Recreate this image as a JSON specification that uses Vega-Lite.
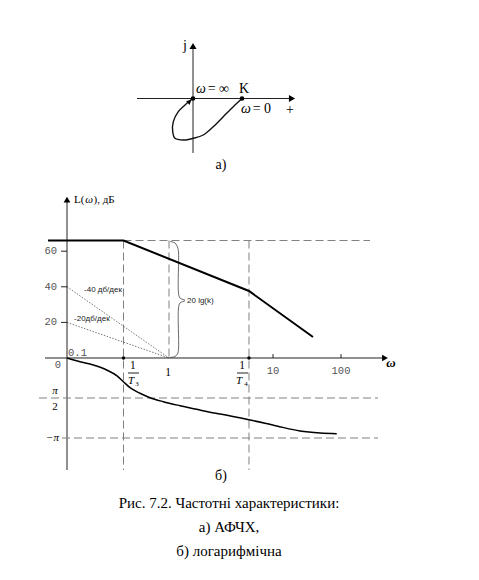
{
 "$schema": "https://vega.github.io/schema/vega-lite/v6.json",
 "width": 479, "height": 580, "padding": 0,
 "autosize": {"type": "none"},
 "background": "white",
 "config": {"view": {"stroke": null}},
 "resolve": {"scale": {"x": "independent", "y": "independent"}},
 "layer": [
  {
   "encoding": {
    "x": {"field": "x", "type": "quantitative", "scale": {"domain": [-3.9388, 5.8367], "nice": false, "zero": false}, "axis": null},
    "y": {"field": "y", "type": "quantitative", "scale": {"domain": [-9.8265, 2.0102], "nice": false, "zero": false}, "axis": null}
   },
   "layer": [
    {"data": {"values": [{"s": "re", "x": -1.1429, "y": 0}, {"s": "re", "x": 2.0, "y": 0}, {"s": "im", "x": 0, "y": -1.1122}, {"s": "im", "x": 0, "y": 1.051}]},
     "mark": {"type": "line", "stroke": "#222", "strokeWidth": 1},
     "encoding": {"detail": {"field": "s"}}},
    {"data": {"values": [
      {"i": 0, "x": 1, "y": 0}, {"i": 1, "x": 0.822, "y": -0.167}, {"i": 2, "x": 0.618, "y": -0.371},
      {"i": 3, "x": 0.414, "y": -0.576}, {"i": 4, "x": 0.21, "y": -0.745}, {"i": 5, "x": 0.006, "y": -0.812},
      {"i": 6, "x": -0.198, "y": -0.847}, {"i": 7, "x": -0.367, "y": -0.812}, {"i": 8, "x": -0.414, "y": -0.678},
      {"i": 9, "x": -0.402, "y": -0.473}, {"i": 10, "x": -0.3, "y": -0.269}, {"i": 11, "x": -0.163, "y": -0.133},
      {"i": 12, "x": -0.027, "y": -0.016}, {"i": 13, "x": 0, "y": 0}]},
     "mark": {"type": "line", "interpolate": "catmull-rom", "stroke": "#111", "strokeWidth": 1.4},
     "encoding": {"order": {"field": "i", "type": "quantitative"}}},
    {"data": {"values": [{"x": 0, "y": 0}, {"x": 1, "y": 0}]},
     "mark": {"type": "point", "filled": true, "color": "#000", "size": 22, "opacity": 1}},
    {"data": {"values": [{"x": 2.02, "y": 0}]},
     "mark": {"type": "point", "shape": "triangle-right", "filled": true, "color": "#000", "size": 50, "opacity": 1}},
    {"data": {"values": [{"x": 0, "y": 1.0714}]},
     "mark": {"type": "point", "shape": "triangle-up", "filled": true, "color": "#000", "size": 50, "opacity": 1}},
    {"data": {"values": [{"x": -0.07, "y": -0.06}]},
     "mark": {"type": "point", "shape": "triangle-up", "angle": 50, "filled": true, "color": "#000", "size": 28, "opacity": 1}},
    {"data": {"values": [{"x": -0.163, "y": 1.071, "t": "j"}, {"x": 0.571, "y": -1.357, "t": "а)"}, {"x": 1.98, "y": -0.235, "t": "+"}]},
     "mark": {"type": "text", "font": "Liberation Serif", "fontSize": 14, "align": "center", "color": "#000"},
     "encoding": {"text": {"field": "t"}}},
    {"data": {"values": [{"x": 0.061, "y": 0.194, "t": "ω"}, {"x": 0.98, "y": -0.214, "t": "ω"}]},
     "mark": {"type": "text", "font": "Liberation Serif", "fontSize": 14, "fontStyle": "italic", "align": "left", "color": "#000"},
     "encoding": {"text": {"field": "t"}}},
    {"data": {"values": [{"x": 0.3, "y": 0.194, "t": "= ∞"}, {"x": 0.939, "y": 0.194, "t": "K"}, {"x": 1.218, "y": -0.214, "t": "= 0"}]},
     "mark": {"type": "text", "font": "Liberation Serif", "fontSize": 14, "align": "left", "color": "#000"},
     "encoding": {"text": {"field": "t"}}}
   ]
  },
  {
   "encoding": {
    "x": {"field": "x", "type": "quantitative", "scale": {"domain": [-1.6569, 3.0392], "nice": false, "zero": false}, "axis": null},
    "y": {"field": "y", "type": "quantitative", "scale": {"domain": [-124.72, 201.12], "nice": false, "zero": false}, "axis": null}
   },
   "layer": [
    {"data": {"values": [
      {"s": "v3", "x": -0.446, "y": 66}, {"s": "v3", "x": -0.446, "y": -62.92},
      {"s": "v1", "x": 0, "y": 66}, {"s": "v1", "x": 0, "y": 0},
      {"s": "v4", "x": 0.784, "y": 66}, {"s": "v4", "x": 0.784, "y": -62.92},
      {"s": "top", "x": -0.446, "y": 66}, {"s": "top", "x": 1.9706, "y": 66}]},
     "mark": {"type": "line", "stroke": "#808080", "strokeWidth": 1, "strokeDash": [8, 4]},
     "encoding": {"detail": {"field": "s"}}},
    {"data": {"values": [
      {"s": "d40", "x": -1, "y": 40}, {"s": "d40", "x": 0, "y": 0},
      {"s": "d20", "x": -1, "y": 20}, {"s": "d20", "x": 0, "y": 0}]},
     "mark": {"type": "line", "stroke": "#555", "strokeWidth": 0.8, "strokeDash": [1.5, 1.5]},
     "encoding": {"detail": {"field": "s"}}},
    {"data": {"values": [
      {"s": "vax", "x": -1, "y": -62.92}, {"s": "vax", "x": -1, "y": 88.76},
      {"s": "hax", "x": -1.2157, "y": 0}, {"s": "hax", "x": 2.098, "y": 0},
      {"s": "t60", "x": -1.0588, "y": 60}, {"s": "t60", "x": -1, "y": 60},
      {"s": "t40", "x": -1.0588, "y": 40}, {"s": "t40", "x": -1, "y": 40},
      {"s": "t20", "x": -1.0588, "y": 20}, {"s": "t20", "x": -1, "y": 20},
      {"s": "t10", "x": 1.0196, "y": 0}, {"s": "t10", "x": 1.0196, "y": 2.2},
      {"s": "t100", "x": 1.6863, "y": 0}, {"s": "t100", "x": 1.6863, "y": 2.2},
      {"s": "b3", "x": -0.402, "y": -8.43}, {"s": "b3", "x": -0.294, "y": -8.43},
      {"s": "b4", "x": 0.6667, "y": -8.43}, {"s": "b4", "x": 0.7745, "y": -8.43}]},
     "mark": {"type": "line", "stroke": "#222", "strokeWidth": 1},
     "encoding": {"detail": {"field": "s"}}},
    {"data": {"values": [
      {"i": 0, "x": 0.0098, "y": 65.45}, {"i": 1, "x": 0.0588, "y": 64.61}, {"i": 2, "x": 0.0833, "y": 62.36},
      {"i": 3, "x": 0.0931, "y": 59.55}, {"i": 4, "x": 0.0931, "y": 36.52}, {"i": 5, "x": 0.1078, "y": 33.71},
      {"i": 6, "x": 0.1569, "y": 32.3}, {"i": 7, "x": 0.1078, "y": 30.9}, {"i": 8, "x": 0.0931, "y": 28.09},
      {"i": 9, "x": 0.0931, "y": 5.06}, {"i": 10, "x": 0.0833, "y": 2.25}, {"i": 11, "x": 0.0588, "y": 0.84},
      {"i": 12, "x": 0.0098, "y": 0.28}]},
     "mark": {"type": "line", "interpolate": "catmull-rom", "stroke": "#444", "strokeWidth": 0.8},
     "encoding": {"order": {"field": "i", "type": "quantitative"}}},
    {"data": {"values": [
      {"i": 0, "x": -1.1863, "y": 66}, {"i": 1, "x": -0.446, "y": 66},
      {"i": 2, "x": 0.784, "y": 37.64}, {"i": 3, "x": 1.4118, "y": 11.8}]},
     "mark": {"type": "line", "stroke": "#000", "strokeWidth": 2},
     "encoding": {"order": {"field": "i", "type": "quantitative"}}},
    {"data": {"values": [{"x": -0.446, "y": 0}, {"x": 0.784, "y": 0}]},
     "mark": {"type": "point", "filled": true, "color": "#000", "size": 12, "opacity": 1}},
    {"data": {"values": [{"x": -1, "y": 89}]},
     "mark": {"type": "point", "shape": "triangle-up", "filled": true, "color": "#000", "size": 45, "opacity": 1}},
    {"data": {"values": [{"x": 2.1176, "y": 0}]},
     "mark": {"type": "point", "shape": "triangle-right", "filled": true, "color": "#000", "size": 45, "opacity": 1}},
    {"data": {"values": [{"x": -1.098, "y": 60, "t": "60"}, {"x": -1.098, "y": 40, "t": "40"}, {"x": -1.098, "y": 20, "t": "20"}, {"x": -1.059, "y": -3.93, "t": "0"}]},
     "mark": {"type": "text", "font": "Liberation Mono", "fontSize": 10.5, "align": "right", "color": "#555"},
     "encoding": {"text": {"field": "t"}}},
    {"data": {"values": [{"x": -0.99, "y": 2.81, "t": "0.1"}]},
     "mark": {"type": "text", "font": "Liberation Mono", "fontSize": 10.5, "align": "left", "color": "#555"},
     "encoding": {"text": {"field": "t"}}},
    {"data": {"values": [{"x": 1.0196, "y": -7.3, "t": "10"}, {"x": 1.6863, "y": -7.3, "t": "100"}]},
     "mark": {"type": "text", "font": "Liberation Mono", "fontSize": 10.5, "align": "center", "color": "#555"},
     "encoding": {"text": {"field": "t"}}},
    {"data": {"values": [{"x": -0.0098, "y": -8.5, "t": "1"}, {"x": -0.353, "y": -4.49, "t": "1"}, {"x": 0.7157, "y": -4.49, "t": "1"}]},
     "mark": {"type": "text", "font": "Liberation Serif", "fontSize": 11.5, "align": "center", "color": "#000"},
     "encoding": {"text": {"field": "t"}}},
    {"data": {"values": [{"x": -0.3725, "y": -12.92, "t": "T"}, {"x": 0.6863, "y": -12.92, "t": "T"}]},
     "mark": {"type": "text", "font": "Liberation Serif", "fontSize": 11, "fontStyle": "italic", "align": "center", "color": "#000"},
     "encoding": {"text": {"field": "t"}}},
    {"data": {"values": [{"x": -0.3137, "y": -14.6, "t": "3"}, {"x": 0.7549, "y": -14.6, "t": "4"}]},
     "mark": {"type": "text", "font": "Liberation Serif", "fontSize": 7, "align": "center", "color": "#000"},
     "encoding": {"text": {"field": "t"}}},
    {"data": {"values": [{"x": -0.833, "y": 38.2, "t": "-40 дб/дек"}, {"x": -0.931, "y": 21.9, "t": "-20дб/дек"}, {"x": 0.1765, "y": 32.0, "t": "20 lg(k)"}]},
     "mark": {"type": "text", "font": "Liberation Sans", "fontSize": 8, "align": "left", "color": "#222"},
     "encoding": {"text": {"field": "t"}}},
    {"data": {"values": [{"x": -0.931, "y": 88.76, "t": "L("}, {"x": -0.74, "y": 88.76, "t": "), дБ"}]},
     "mark": {"type": "text", "font": "Liberation Serif", "fontSize": 11, "align": "left", "color": "#000"},
     "encoding": {"text": {"field": "t"}}},
    {"data": {"values": [{"x": -0.822, "y": 88.76, "t": "ω"}]},
     "mark": {"type": "text", "font": "Liberation Serif", "fontSize": 11, "fontStyle": "italic", "align": "left", "color": "#000"},
     "encoding": {"text": {"field": "t"}}},
    {"data": {"values": [{"x": 2.176, "y": -2.81, "t": "ω"}]},
     "mark": {"type": "text", "font": "Liberation Serif", "fontSize": 13, "fontStyle": "italic", "fontWeight": "bold", "align": "center", "color": "#000"},
     "encoding": {"text": {"field": "t"}}}
   ]
  },
  {
   "encoding": {
    "x": {"field": "x", "type": "quantitative", "scale": {"domain": [-1.6569, 3.0392], "nice": false, "zero": false}, "axis": null},
    "y": {"field": "y", "type": "quantitative", "scale": {"domain": [-499.5, 805.5], "nice": false, "zero": false}, "axis": null}
   },
   "layer": [
    {"data": {"values": [
      {"s": "p90", "x": -1.2745, "y": -90}, {"s": "p90", "x": 2.049, "y": -90},
      {"s": "p180", "x": -1.049, "y": -180}, {"s": "p180", "x": 2.049, "y": -180}]},
     "mark": {"type": "line", "stroke": "#808080", "strokeWidth": 1, "strokeDash": [8, 4]},
     "encoding": {"detail": {"field": "s"}}},
    {"data": {"values": [
      {"x": -1.0, "y": 0}, {"x": -0.8725, "y": -8.3}, {"x": -0.7422, "y": -15.75}, {"x": -0.6108, "y": -27},
      {"x": -0.5127, "y": -39.8}, {"x": -0.448, "y": -53.3}, {"x": -0.3824, "y": -66.8}, {"x": -0.2843, "y": -79.4},
      {"x": -0.1863, "y": -89.3}, {"x": -0.0559, "y": -98.3}, {"x": 0.1078, "y": -107.3}, {"x": 0.2716, "y": -115.4},
      {"x": 0.402, "y": -122.2}, {"x": 0.5, "y": -126}, {"x": 0.7941, "y": -139.5}, {"x": 1.0559, "y": -153},
      {"x": 1.2843, "y": -164.25}, {"x": 1.4804, "y": -168.75}, {"x": 1.6441, "y": -170.3}]},
     "mark": {"type": "line", "interpolate": "monotone", "stroke": "#000", "strokeWidth": 1.5}},
    {"data": {"values": [{"x": -1.1176, "y": -74.25, "t": "π"}]},
     "mark": {"type": "text", "font": "Liberation Serif", "fontSize": 11, "fontStyle": "italic", "align": "center", "color": "#000"},
     "encoding": {"text": {"field": "t"}}},
    {"data": {"values": [{"x": -1.0784, "y": -180, "t": "−π"}]},
     "mark": {"type": "text", "font": "Liberation Serif", "fontSize": 11, "fontStyle": "italic", "align": "right", "color": "#000"},
     "encoding": {"text": {"field": "t"}}},
    {"data": {"values": [{"x": -1.1176, "y": -110.25, "t": "2"}]},
     "mark": {"type": "text", "font": "Liberation Serif", "fontSize": 11, "align": "center", "color": "#000"},
     "encoding": {"text": {"field": "t"}}},
    {"data": {"values": [{"x": 0.5098, "y": -265.5, "t": "б)"}]},
     "mark": {"type": "text", "font": "Liberation Serif", "fontSize": 14, "align": "center", "color": "#000"},
     "encoding": {"text": {"field": "t"}}}
   ]
  },
  {
   "data": {"values": [
     {"col": 0, "line": 1, "t": "Рис. 7.2. Частотні характеристики:"},
     {"col": 0, "line": 2, "t": "а) АФЧХ,"},
     {"col": 0, "line": 3, "t": "б) логарифмічна"}]},
   "mark": {"type": "text", "font": "Liberation Serif", "fontSize": 15, "align": "center", "color": "#000"},
   "encoding": {
    "x": {"field": "col", "type": "quantitative", "scale": {"domain": [-229, 250], "nice": false, "zero": false}, "axis": null},
    "y": {"field": "line", "type": "quantitative", "scale": {"domain": [-19.958, 4.208], "nice": false, "zero": false, "reverse": true}, "axis": null},
    "text": {"field": "t"}
   }
  }
 ]
}
